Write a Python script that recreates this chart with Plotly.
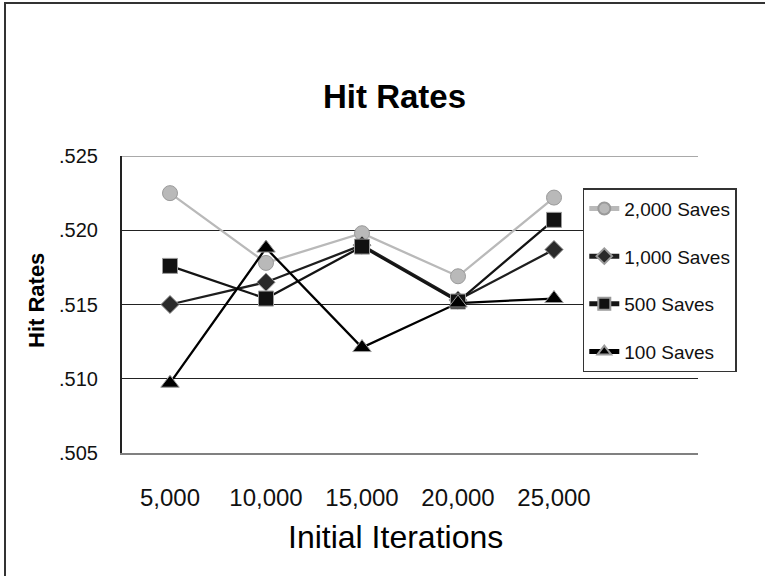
import plotly.graph_objects as go

# Hit rate by number of initial iterations, one series per save count
iterations = ["5,000", "10,000", "15,000", "20,000", "25,000"]
saves_2000 = [0.5225, 0.5178, 0.5198, 0.5169, 0.5222]
saves_1000 = [0.5150, 0.5165, 0.5190, 0.5153, 0.5187]
saves_500 = [0.5176, 0.5154, 0.5189, 0.5152, 0.5207]
saves_100 = [0.5097, 0.5188, 0.5121, 0.5151, 0.5154]

y_ticks = [0.505, 0.510, 0.515, 0.520, 0.525]
y_tick_labels = [".505", ".510", ".515", ".520", ".525"]

FONT = "Arial, Liberation Sans, sans-serif"
x_pos = list(range(len(iterations)))

series = [
    ("2,000 Saves", saves_2000, "#b9b9b9", "#b9b9b9", "circle", 15),
    ("1,000 Saves", saves_1000, "#1e1e1e", "#2a2a2a", "diamond", 14),
    ("500 Saves", saves_500, "#141414", "#111111", "square", 15),
    ("100 Saves", saves_100, "#000000", "#000000", "triangle-up", 16),
]

fig = go.Figure()
for i, (name, vals, lcol, mcol, sym, size) in enumerate(series):
    fig.add_trace(go.Scatter(
        x=x_pos, y=vals, name=name, mode="lines+markers",
        legendgroup=f"g{i}",
        line=dict(color=lcol, width=2.3),
        marker=dict(symbol=sym, size=size, color=mcol,
                    line=dict(color="#9a9a9a", width=1)),
    ))

fig.update_layout(
    width=765, height=576,
    margin=dict(l=122, r=67, t=156, b=123),
    paper_bgcolor="white", plot_bgcolor="white",
    font=dict(family=FONT, color="#111111"),
    showlegend=True,
    legend=dict(
        x=0.800, y=0.892, xanchor="left", yanchor="top",
        bgcolor="white", bordercolor="#333333", borderwidth=1.5,
        font=dict(size=19, family=FONT, color="#111111"),
        tracegroupgap=20, itemsizing="constant", itemwidth=30,
    ),
    xaxis=dict(
        range=[-0.5, 5.5], tickmode="array", tickvals=x_pos, ticktext=iterations,
        showgrid=False, zeroline=False, showline=True, linecolor="#808080",
        linewidth=2, ticks="", tickfont=dict(size=24, family=FONT, color="#111111"),
        ticklabelstandoff=22,
    ),
    yaxis=dict(
        range=[0.505, 0.525], tickmode="array", tickvals=y_ticks, ticktext=y_tick_labels,
        showgrid=True, gridcolor="#222222", gridwidth=1, zeroline=False,
        showline=True, linecolor="#222222", linewidth=2, ticks="",
        tickfont=dict(size=20, family=FONT, color="#111111"),
        ticklabelstandoff=18,
    ),
    annotations=[
        dict(text="<b>Hit Rates</b>", xref="paper", yref="paper",
             x=(394 - 122) / 576, y=(453 - 97) / 297, xanchor="center", yanchor="middle",
             showarrow=False, font=dict(size=33, family=FONT, color="#000000")),
        dict(text="<b>Hit Rates</b>", xref="paper", yref="paper", textangle=-90,
             x=(36 - 122) / 576, y=(453 - 301) / 297, xanchor="center", yanchor="middle",
             showarrow=False, font=dict(size=22, family=FONT, color="#000000")),
        dict(text="Initial Iterations", xref="paper", yref="paper",
             x=(395 - 122) / 576, y=(453 - 537) / 297, xanchor="center", yanchor="middle",
             showarrow=False, font=dict(size=32, family=FONT, color="#000000")),
    ],
    shapes=[
        # top gridline at the upper end of the value axis
        dict(type="line", xref="paper", yref="y", x0=0, x1=1,
             y0=y_ticks[-1], y1=y_ticks[-1],
             line=dict(color="#555555", width=1.2), layer="below"),
        # outer frame of the chart (left and top edges)
        dict(type="path", xref="paper", yref="paper",
             path=f"M {(5 - 122) / 576},{(453 - 600) / 297} L {(5 - 122) / 576},{(453 - 3) / 297} L {(800 - 122) / 576},{(453 - 3) / 297}",
             line=dict(color="#333333", width=2), layer="above"),
    ],
)

fig.write_html("out.html")
